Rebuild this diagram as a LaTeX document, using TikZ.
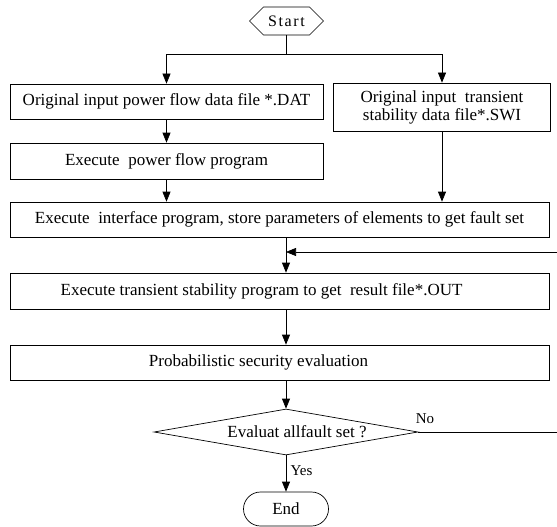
\documentclass[tikz,border=0pt]{standalone}
\usepackage{fontspec}
\setmainfont{Liberation Serif}
\newfontfamily\spacedfont[LetterSpace=10]{Liberation Serif}
\usetikzlibrary{shapes.geometric,shapes.symbols,arrows.meta}
\begin{document}
\begin{tikzpicture}[x=1pt,y=-1pt,
  line width=0.7pt,
  txt/.style={font=\fontsize{17}{18}\selectfont},
  small/.style={font=\fontsize{15}{17}\selectfont},
  box/.style={draw, rectangle, inner sep=0pt, txt},
  arr/.style={-{Triangle[length=10pt,width=8pt]}},
]
\clip (0,0) rectangle (557,527);
\fill[white] (0,0) rectangle (557,527);
% nodes
\node[draw, signal, signal to=west and east, signal pointer angle=90,
      minimum width=74pt, minimum height=28pt, inner sep=0pt,
      font=\spacedfont\fontsize{16}{18}\selectfont] (start) at (286.5,21) {Start};
\node[box, minimum width=313pt, minimum height=35pt] (b1) at (166.5,101.5) {Original input power flow data file *.DAT};
\node[box, minimum width=217pt, minimum height=48pt, align=center] (b2) at (442,107)
   {Original input\ \ transient\\[0pt]stability data file*.SWI};
\node[box, minimum width=313pt, minimum height=36pt] (b3) at (166.5,161) {Execute\ \ power flow program};
\node[box, minimum width=539pt, minimum height=35pt] (b4) at (279.5,219.5)
   {Execute\ \ interface program, store parameters of elements to get fault set};
\node[box, minimum width=539pt, minimum height=36pt,
      label={[txt, xshift=-18pt]center:Execute transient stability program to get\ \ result file*.OUT}] (b5) at (279.5,291) {};
\node[box, minimum width=539pt, minimum height=35pt,
      label={[txt, xshift=-21pt]center:Probabilistic security evaluation}] (b6) at (279.5,362.5) {};
\node[draw, diamond, minimum width=264pt, minimum height=46pt, inner sep=0pt,
      label={[txt, xshift=11pt]center:Evaluat allfault set ?}] (d) at (286,432) {};
\node[draw, rectangle, rounded corners=17pt, minimum width=85pt, minimum height=34pt, inner sep=0pt, txt] (e) at (286,509) {End};
\node[small, inner sep=0pt] (yes) at (301.5,471) {Yes};
\node[small, inner sep=0pt] (no) at (425,419) {No};
\coordinate (br) at (286.5,54);
\coordinate (join) at (286,252);
% connectors
\draw (start.south) -- (br);
\draw[arr] (br) -| (b1.north);
\draw[arr] (br) -| (b2.north);
\draw[arr] (b1.south) -- (b3.north);
\draw[arr] (b3.south) -- (b3.south |- b4.north);
\draw[arr] (b2.south) -- (b2.south |- b4.north);
\draw[arr] (join |- b4.south) -- (join |- b5.north);
\draw[arr] (join |- b5.south) -- (join |- b6.north);
\draw[arr] (join |- b6.south) -- (d.north);
\draw[arr] (d.south) -- (e.north);
\draw[arr] (d.east) -- ++(160,0) |- (join);
\end{tikzpicture}
\end{document}
